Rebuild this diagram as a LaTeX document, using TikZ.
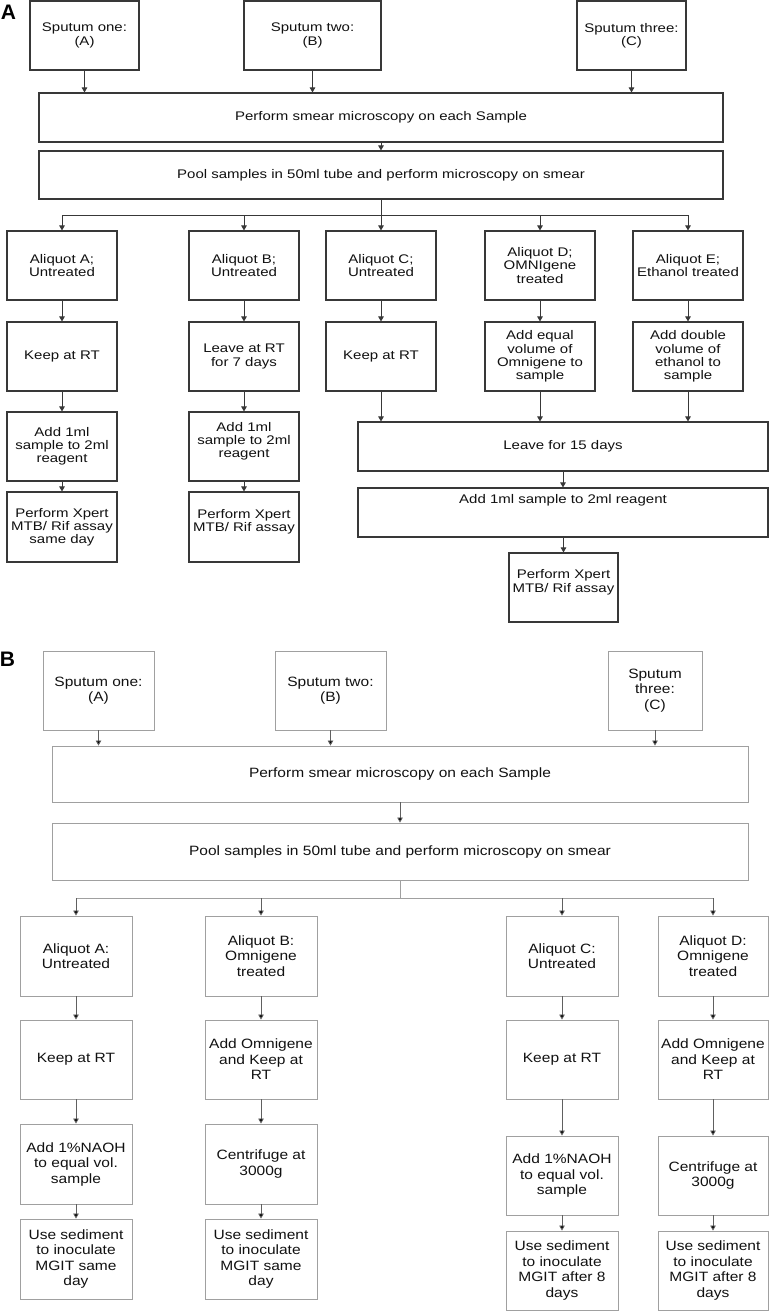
\documentclass[tikz,border=0pt]{standalone}
\usepackage{fontspec}
\setmainfont{Liberation Sans}
\newfontfamily\fontA[FakeStretch=1.2]{Liberation Sans}
\newfontfamily\fontB[FakeStretch=1.15]{Liberation Sans}
\usetikzlibrary{arrows.meta}
\definecolor{lineA}{HTML}{383838}
\definecolor{lineB}{HTML}{A0A0A0}
\definecolor{arrowB}{HTML}{606060}
\definecolor{txt}{HTML}{111111}
\newcommand{\bxt}[4]{\parbox[c][#2][#3]{#1}{\centering #4}}
\tikzset{
  abox/.style={draw=lineA, line width=1.1pt, inner sep=0pt, text=txt,
    font=\fontA\fontsize{12.5}{13.2}\selectfont},
  bbox/.style={draw=lineB, line width=0.9pt, inner sep=0pt, text=txt,
    font=\fontB\fontsize{13.5}{15.5}\selectfont},
  arrA/.style={draw=lineA, line width=1pt, -{Triangle[width=5.5pt,length=5pt]}},
  lnA/.style={draw=lineA, line width=1pt},
  arrB/.style={draw=arrowB, line width=0.8pt, -{Triangle[width=5.5pt,length=5pt,fill=black]}},
  lnB/.style={draw=lineB, line width=0.9pt},
  panel/.style={font=\bfseries\fontsize{21}{21}\selectfont, text=black, inner sep=0pt}
}
\begin{document}
\begin{tikzpicture}[x=1pt,y=-1pt]
\fill[white] (0,0) rectangle (769,1311);
\useasboundingbox (0,0) rectangle (769,1311);

% ---------------- Panel A ----------------
\node[panel] (labA) at (8.5,12.5) {A};
\node[abox] (s1) at (84.5,35.5) {\bxt{109pt}{69pt}{c}{Sputum one:\\(A)}};
\node[abox] (s2) at (312.5,35.5) {\bxt{137pt}{69pt}{c}{Sputum two:\\(B)}};
\node[abox] (s3) at (631.5,35.5) {\bxt{109pt}{69pt}{c}{Sputum three:\\(C)}};
\node[abox] (smear) at (381,117.5) {\bxt{684pt}{49pt}{c}{Perform smear microscopy on each Sample}};
\node[abox] (pool) at (381,175) {\bxt{684pt}{48pt}{c}{Pool samples in 50ml tube and perform microscopy on smear}};

\node[abox] (aA) at (62,265.5) {\bxt{110pt}{69pt}{c}{Aliquot A;\\Untreated}};
\node[abox] (aB) at (244,265.5) {\bxt{110pt}{69pt}{c}{Aliquot B;\\Untreated}};
\node[abox] (aC) at (381,265.5) {\bxt{110pt}{69pt}{c}{Aliquot C;\\Untreated}};
\node[abox] (aD) at (540,265.5) {\bxt{110pt}{69pt}{c}{Aliquot D;\\OMNIgene\\treated}};
\node[abox] (aE) at (688,265.5) {\bxt{110pt}{69pt}{c}{Aliquot E;\\Ethanol treated}};

\node[abox] (kA) at (62,356.5) {\bxt{110pt}{69pt}{c}{Keep at RT}};
\node[abox] (kB) at (244,356.5) {\bxt{110pt}{69pt}{c}{Leave at RT\\for 7 days}};
\node[abox] (kC) at (381,356.5) {\bxt{110pt}{69pt}{c}{Keep at RT}};
\node[abox] (kD) at (540,356.5) {\bxt{110pt}{69pt}{c}{Add equal\\volume of\\Omnigene to\\sample}};
\node[abox] (kE) at (688,356.5) {\bxt{110pt}{69pt}{c}{Add double\\volume of\\ethanol to\\sample}};

\node[abox] (rA) at (62,446.5) {\bxt{110pt}{69pt}{c}{Add 1ml\\sample to 2ml\\reagent}};
\node[abox] (rB) at (244,446.5) {\bxt{110pt}{69pt}{c}{Add 1ml\\sample to 2ml\\reagent\\\mbox{}}};
\node[abox] (xA) at (62,527) {\bxt{110pt}{70pt}{c}{Perform Xpert\\MTB/ Rif assay\\same day}};
\node[abox] (xB) at (244,527) {\bxt{110pt}{70pt}{c}{Perform Xpert\\MTB/ Rif assay\\\mbox{}}};

\node[abox] (leave) at (563,446.5) {\bxt{410pt}{49pt}{c}{Leave for 15 days}};
\node[abox] (add) at (563,512.5) {\bxt{410pt}{49pt}{t}{\rule{0pt}{15pt}Add 1ml sample to 2ml reagent}};
\node[abox] (xpert) at (563.5,587.5) {\bxt{109pt}{69pt}{c}{Perform Xpert\\MTB/ Rif assay\\\mbox{}}};

\draw[arrA] (s1.south) -- (s1.south |- smear.north);
\draw[arrA] (s2.south) -- (s2.south |- smear.north);
\draw[arrA] (s3.south) -- (s3.south |- smear.north);
\draw[arrA] (smear.south) -- (pool.north);
\coordinate (jA) at (381,215);
\draw[lnA] (pool.south) -- (jA);
\draw[lnA] (jA -| aA) -- (jA -| aE);
\foreach \n in {aA,aB,aC,aD,aE} {\draw[arrA] (jA -| \n) -- (\n.north);}
\foreach \u/\v in {aA/kA,kA/rA,rA/xA,aB/kB,kB/rB,rB/xB,aC/kC,aD/kD,aE/kE}
  {\draw[arrA] (\u.south) -- (\v.north);}
\foreach \n in {kC,kD,kE} {\draw[arrA] (\n.south) -- (\n.south |- leave.north);}
\draw[arrA] (leave.south) -- (add.north);
\draw[arrA] (add.south -| xpert) -- (xpert.north);

% ---------------- Panel B ----------------
\node[panel] (labB) at (7.5,659.5) {B};
\node[bbox] (t1) at (98.5,690.5) {\bxt{111pt}{79pt}{c}{Sputum one:\\(A)}};
\node[bbox] (t2) at (330.5,690.5) {\bxt{111pt}{79pt}{c}{Sputum two:\\(B)}};
\node[bbox] (t3) at (655,690.5) {\bxt{94pt}{79pt}{c}{Sputum\\three:\\(C)}};
\node[bbox] (smearB) at (400,774) {\bxt{696pt}{56pt}{c}{Perform smear microscopy on each Sample}};
\node[bbox] (poolB) at (400,851.5) {\bxt{696pt}{57pt}{c}{Pool samples in 50ml tube and perform microscopy on smear}};

\node[bbox] (bA) at (76,956) {\bxt{112pt}{80pt}{c}{Aliquot A:\\Untreated}};
\node[bbox] (bB) at (261,956) {\bxt{112pt}{80pt}{c}{Aliquot B:\\Omnigene\\treated}};
\node[bbox] (bC) at (562,956) {\bxt{112pt}{80pt}{c}{Aliquot C:\\Untreated}};
\node[bbox] (bD) at (713,956) {\bxt{110pt}{80pt}{c}{Aliquot D:\\Omnigene\\treated}};

\node[bbox] (cA) at (76,1059.5) {\bxt{112pt}{79pt}{c}{Keep at RT}};
\node[bbox] (cB) at (261,1059.5) {\bxt{112pt}{79pt}{c}{Add Omnigene\\and Keep at\\RT}};
\node[bbox] (cC) at (562,1059.5) {\bxt{112pt}{79pt}{c}{Keep at RT}};
\node[bbox] (cD) at (713,1059.5) {\bxt{110pt}{79pt}{c}{Add Omnigene\\and Keep at\\RT}};

\node[bbox] (dA) at (76,1164) {\bxt{112pt}{80pt}{c}{Add 1\%NAOH\\to equal vol.\\sample}};
\node[bbox] (dB) at (261,1164) {\bxt{112pt}{80pt}{c}{Centrifuge at\\3000g}};
\node[bbox] (dC) at (562,1175.5) {\bxt{112pt}{79pt}{c}{Add 1\%NAOH\\to equal vol.\\sample}};
\node[bbox] (dD) at (713,1175.5) {\bxt{110pt}{79pt}{c}{Centrifuge at\\3000g}};

\node[bbox] (eA) at (76,1259) {\bxt{112pt}{80pt}{c}{Use sediment\\to inoculate\\MGIT same\\day}};
\node[bbox] (eB) at (261,1259) {\bxt{112pt}{80pt}{c}{Use sediment\\to inoculate\\MGIT same\\day}};
\node[bbox] (eC) at (562,1270.5) {\bxt{112pt}{79pt}{c}{Use sediment\\to inoculate\\MGIT after 8\\days}};
\node[bbox] (eD) at (713,1270.5) {\bxt{110pt}{79pt}{c}{Use sediment\\to inoculate\\MGIT after 8\\days}};

\draw[arrB] (t1.south) -- (t1.south |- smearB.north);
\draw[arrB] (t2.south) -- (t2.south |- smearB.north);
\draw[arrB] (t3.south) -- (t3.south |- smearB.north);
\draw[arrB] (smearB.south) -- (poolB.north);
\coordinate (jB) at (400,898);
\draw[lnB] (poolB.south) -- (jB);
\draw[lnB] (jB -| bA) -- (jB -| bD);
\foreach \n in {bA,bB,bC,bD} {\draw[arrB] (jB -| \n) -- (\n.north);}
\foreach \u/\v in {bA/cA,cA/dA,dA/eA,bB/cB,cB/dB,dB/eB,bC/cC,cC/dC,dC/eC,bD/cD,cD/dD,dD/eD}
  {\draw[arrB] (\u.south) -- (\v.north);}
\end{tikzpicture}
\end{document}
